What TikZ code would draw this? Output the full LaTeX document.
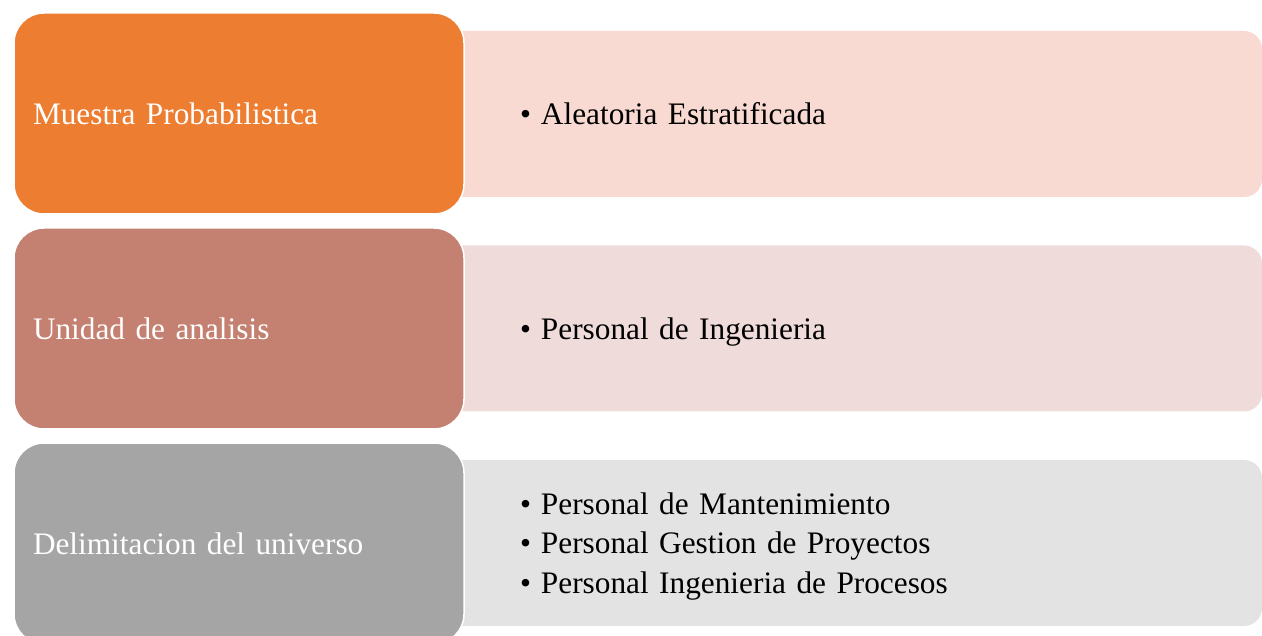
\documentclass[tikz,border=0pt]{standalone}
\usepackage{fontspec}
\setmainfont{Liberation Serif}
\usepackage{tikz}
\usetikzlibrary{positioning}

\definecolor{headA}{HTML}{ED7D31}
\definecolor{listA}{HTML}{F8DAD2}
\definecolor{headB}{HTML}{C48070}
\definecolor{listB}{HTML}{EFDCDA}
\definecolor{headC}{HTML}{A5A5A5}
\definecolor{listC}{HTML}{E3E3E3}

\newcommand{\bul}{\rule[-7pt]{0pt}{36pt}\makebox[21pt][l]{•}}

\begin{document}
\begin{tikzpicture}[x=1pt, y=-1pt,
    every node/.style={font=\fontsize{31.3}{39.5}\selectfont},
    headbox/.style={rectangle, rounded corners=30pt, draw=white, line width=1.5pt,
      text width=412pt, inner xsep=19pt, minimum height=201pt, align=left, text=white},
    listbox/.style={rectangle, rounded corners=18pt, text width=662pt, inner xsep=80pt,
      minimum height=166pt, align=left, text=black}]
  \useasboundingbox (0,0) rectangle (1262,636);
  \clip (0,0) rectangle (1262,636);

  % bullet lists behind
  \node[listbox, fill=listA] (tipo) at (851,114) {\bul Aleatoria Estratificada};
  \node[listbox, fill=listB] (personal) at (851,328.5) {\bul Personal de Ingenieria};
  \node[listbox, fill=listC] (areas) at (851,543)
    {\bul Personal de Mantenimiento\\ \bul Personal Gestion de Proyectos\\ \bul Personal Ingenieria de Procesos};

  % headings
  \node[headbox, fill=headA] (muestra) at (239,113.5) {Muestra Probabilistica};
  \node[headbox, fill=headB] (unidad) at (239,328.5) {Unidad de analisis};
  \node[headbox, fill=headC] (universo) at (239,543.5) {Delimitacion del universo};
\end{tikzpicture}
\end{document}
